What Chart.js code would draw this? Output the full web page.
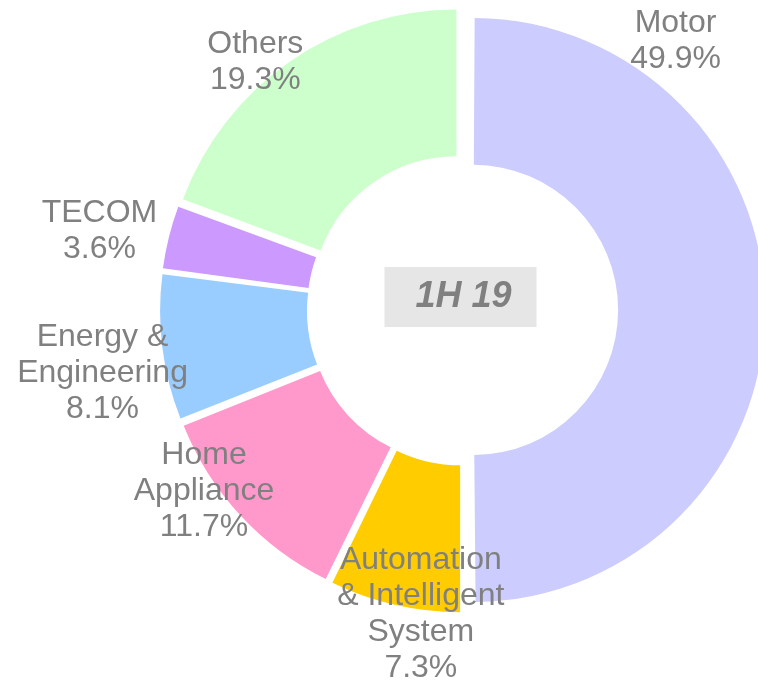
<!DOCTYPE html>
<html>
<head>
<meta charset="utf-8">
<script src="https://cdn.jsdelivr.net/npm/chart.js@4/dist/chart.umd.min.js"></script>
<style>
    html, body { margin: 0; padding: 0; background: #ffffff; }
    #wrap { width: 758px; height: 686px; position: relative; }
</style>
</head>
<body>
<div id="wrap"><canvas id="segmentChart"></canvas></div>
<script>
// 데이터 (1H 19 사업부문별 매출 비중)
const categories = [
    ['Motor'],
    ['Automation', '& Intelligent', 'System'],
    ['Home', 'Appliance'],
    ['Energy &', 'Engineering'],
    ['TECOM'],
    ['Others']
];
const shares = [49.9, 7.3, 11.7, 8.1, 3.6, 19.3];
const periodLabel = '1H 19';

// 스타일
const sliceColors = ['#CCCCFF', '#FFCC00', '#FF99CC', '#99CCFF', '#CC99FF', '#CCFFCC'];
const textColor = '#808080';
const fontFamily = '"Liberation Sans", Arial, Helvetica, sans-serif';

// 라벨 위치: 중심 기준 각도(시계방향, 위쪽 0도)와 반지름 배율
const labelPlacement = [
    { angle: 38.0, r: 1.174 },
    { angle: 188.2, r: 1.048 },
    { angle: 235.3, r: 1.085 },
    { angle: 260.2, r: 1.258 },
    { angle: 282.4, r: 1.280 },
    { angle: 319.9, r: 1.112 }
];

/**
 * offset 사용 시 큰 조각의 반지름이 커지는 것을 되돌림 (순수 평행이동만 남김)
 */
const keepRadius = {
    id: 'keepRadius',
    afterDatasetUpdate(chart, args) {
        const meta = chart.getDatasetMeta(args.index);
        meta.data.forEach(arc => {
            const circ = arc.endAngle - arc.startAngle;
            const fix = 1 - Math.sin(Math.min(Math.PI, circ));
            const grow = ((arc.options.offset || 0) / 4) * fix;
            arc.outerRadius -= grow;
            arc.innerRadius -= grow;
        });
    }
};

/**
 * 조각 라벨과 가운데 기간 라벨
 */
const sliceLabels = {
    id: 'sliceLabels',
    afterDatasetsDraw(chart) {
        const ctx = chart.ctx;
        const meta = chart.getDatasetMeta(0);
        const first = meta.data[0];
        const cx = first.x;
        const cy = first.y;
        const R = meta.controller.outerRadius;

        ctx.save();
        ctx.fillStyle = textColor;
        ctx.textAlign = 'center';
        ctx.textBaseline = 'middle';
        ctx.font = '32px ' + fontFamily;
        const lineHeight = 36;

        categories.forEach((lines, i) => {
            const place = labelPlacement[i];
            const a = place.angle * Math.PI / 180;
            const x = cx + Math.sin(a) * R * place.r + 2;
            const y = cy - Math.cos(a) * R * place.r + 1;
            const all = lines.concat([shares[i].toFixed(1) + '%']);
            const top = y - (all.length - 1) * lineHeight / 2;
            all.forEach((t, j) => ctx.fillText(t, x, top + j * lineHeight));
        });

        // 가운데 박스
        const bw = 152, bh = 60;
        const bx = cx - 2, by = cy - 13;
        ctx.fillStyle = '#E6E6E6';
        ctx.fillRect(bx - bw / 2, by - bh / 2, bw, bh);
        ctx.fillStyle = textColor;
        ctx.font = 'italic bold 36px ' + fontFamily;
        ctx.fillText(periodLabel, bx + 3, by);
        ctx.restore();
    }
};

function init() {
    const ctx = document.getElementById('segmentChart').getContext('2d');
    new Chart(ctx, {
        type: 'doughnut',
        data: {
            labels: categories.map(c => c.join(' ')),
            datasets: [{
                data: shares,
                backgroundColor: sliceColors,
                borderWidth: 0,
                offset: 42,
                hoverOffset: 0,
                clip: false
            }]
        },
        options: {
            responsive: true,
            maintainAspectRatio: false,
            animation: false,
            events: [],
            cutout: '49.7%',
            radius: 292,
            layout: {
                padding: { left: 167, right: 0, top: 0, bottom: 66 }
            },
            plugins: {
                legend: { display: false },
                tooltip: { enabled: false }
            }
        },
        plugins: [keepRadius, sliceLabels]
    });
}

document.addEventListener('DOMContentLoaded', init);
</script>
</body>
</html>
